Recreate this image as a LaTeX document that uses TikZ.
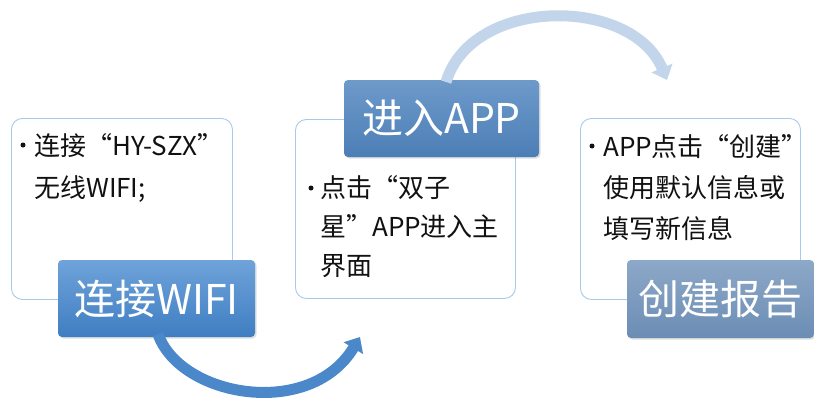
\documentclass[tikz,border=0pt]{standalone}
\usepackage{fontspec}
\setmainfont{Noto Sans CJK SC}
\usetikzlibrary{arrows.meta,shadows}
\definecolor{boxline}{HTML}{A9C9EA}
\definecolor{txt}{HTML}{111111}
\definecolor{tagAtop}{HTML}{6FA3DA}
\definecolor{tagAbot}{HTML}{3F7EC2}
\definecolor{tagBtop}{HTML}{6E9ACA}
\definecolor{tagBbot}{HTML}{4C7EB6}
\definecolor{tagCtop}{HTML}{8DA8C8}
\definecolor{tagCbot}{HTML}{6B8DB4}
\definecolor{arrA}{HTML}{4B88CA}
\definecolor{arrB}{HTML}{C3D5EB}
\tikzset{
  infobox/.style={draw=boxline, line width=0.9pt, rounded corners=11pt, fill=white, inner sep=0pt},
  tagbox/.style={rounded corners=4pt, inner sep=0pt, text=white,
     font=\fontsize{41}{41}\selectfont, drop shadow={shadow xshift=1.5pt, shadow yshift=-1.5pt, opacity=0.25}},
  bodytxt/.style={anchor=base west, inner sep=0pt, text=txt, font=\fontsize{26}{26}\selectfont},
  bul/.style={circle, fill=txt, inner sep=0pt, minimum size=5pt},
  flow/.style={line width=11pt, -{Triangle[width=22pt,length=13pt]}},
}
\begin{document}
\begin{tikzpicture}[x=1pt,y=-1pt]
\useasboundingbox (0,0) rectangle (814,399);
% info boxes
\node[infobox, minimum width=221pt, minimum height=181pt, anchor=north west] (b1) at (11,118) {};
\node[infobox, minimum width=220pt, minimum height=179pt, anchor=north west] (b2) at (295,119) {};
\node[infobox, minimum width=220pt, minimum height=181pt, anchor=north west] (b3) at (580,118) {};
% texts box 1
\node[bul] (b1d) at (23,145) {};
\node[bodytxt] (b1l1) at (34,155) {连接“HY-SZX”};
\node[bodytxt] (b1l2) at (34,197) {无线WIFI;};
% texts box 2
\node[bul] (b2d) at (311,188) {};
\node[bodytxt] (b2l1) at (320,197) {点击“双子};
\node[bodytxt] (b2l2) at (320,236) {星”APP进入主};
\node[bodytxt] (b2l3) at (320,275) {界面};
% texts box 3
\node[bul] (b3d) at (592,146) {};
\node[bodytxt] (b3l1) at (603,156) {APP点击“创建”};
\node[bodytxt] (b3l2) at (603,197) {使用默认信息或};
\node[bodytxt] (b3l3) at (603,238) {填写新信息};
% tag boxes
\node[tagbox, top color=tagAtop, bottom color=tagAbot, minimum width=197pt, minimum height=77pt] (t1) at (156.5,298.5) {连接WIFI};
\node[tagbox, top color=tagBtop, bottom color=tagBbot, minimum width=195pt, minimum height=77pt] (t2) at (441.5,118.5) {进入APP};
\node[tagbox, top color=tagCtop, bottom color=tagCbot, minimum width=187pt, minimum height=78pt] (t3) at (720.5,299) {创建报告};
% arrows
\coordinate (a1s) at (158,334);
\coordinate (a1e) at (360,337);
\coordinate (a2s) at (446,82);
\coordinate (a2e) at (667,80);
\draw[flow, draw=arrA] (a1s) .. controls (180,397) and (310,420) .. (a1e);
\draw[flow, draw=arrB] (a2s) .. controls (472,-4) and (632,-4) .. (a2e);
\end{tikzpicture}
\end{document}
